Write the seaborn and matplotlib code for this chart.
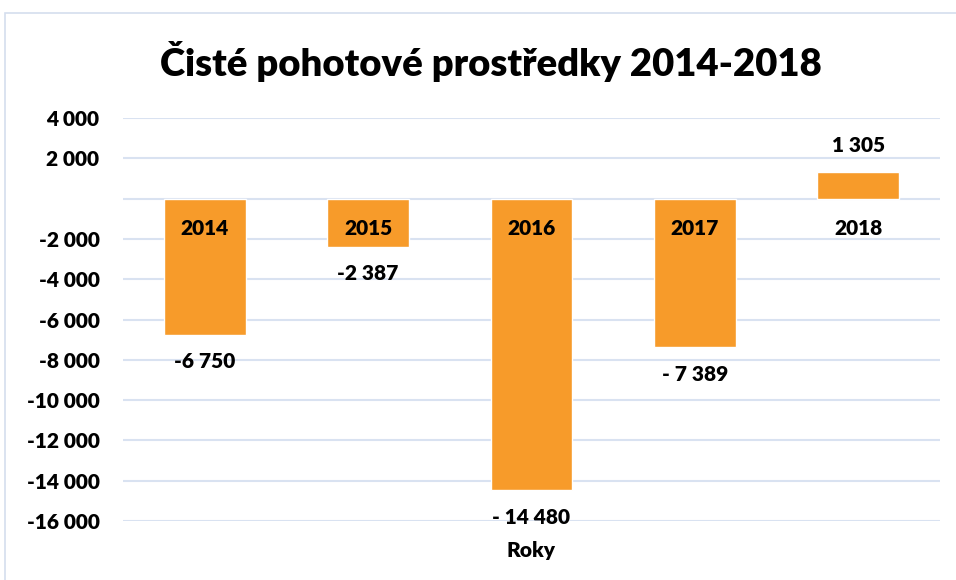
import matplotlib
matplotlib.use("Agg")
import matplotlib.pyplot as plt
import matplotlib.patches as mpatches
import seaborn as sns
import pandas as pd

years = ["2014", "2015", "2016", "2017", "2018"]
values = [-6750, -2387, -14480, -7389, 1305]
value_labels = ["-6 750", "-2 387", "- 14 480", "- 7 389", "1 305"]
yticks = [4000, 2000, 0, -2000, -4000, -6000, -8000, -10000, -12000, -14000, -16000]
ytick_labels = ["4 000", "2 000", "", "-2 000", "-4 000", "-6 000", "-8 000",
                "-10 000", "-12 000", "-14 000", "-16 000"]
title = "Čisté pohotové prostředky 2014-2018"
xlabel = "Roky"

sns.set_theme(style="white")
plt.rcParams['font.family'] = ['Lato', 'DejaVu Sans']
plt.rcParams['text.color'] = 'black'

W = "heavy"
FS = 15

df = pd.DataFrame({"year": years, "value": values})

fig = plt.figure(figsize=(9.56, 5.8), dpi=100)
ax = fig.add_axes([123/956, 1-521/580, (940-123)/956, (521-118)/580])

BAR = "#F79B2A"
GRID = "#D9E2F1"
sns.barplot(data=df, x="year", y="value", color=BAR, width=0.5,
            saturation=1, ax=ax, zorder=3)

ax.set_ylim(-16000, 4000)
ax.set_yticks(yticks)
ax.set_yticklabels(ytick_labels, fontsize=FS, fontweight=W, color="black")
ax.tick_params(axis="y", length=0, pad=17)
ax.grid(axis="y", color=GRID, linewidth=1.5, zorder=0)
ax.set_axisbelow(True)
for s in ax.spines.values():
    s.set_visible(False)

ax.set_xticks(range(len(years)))
ax.set_xticklabels([])
ax.tick_params(axis="x", length=0)
ax.set_xlabel("")
ax.set_ylabel("")

# category labels just below the zero line, drawn over bars
for i, yr in enumerate(years):
    ax.annotate(yr, (i, 0), xytext=(0, -21.5), textcoords="offset points",
                ha="center", va="center", fontsize=FS, fontweight=W,
                color="black", zorder=6)

# data labels
for i, (v, lab) in enumerate(zip(values, value_labels)):
    off = -19.5 if v < 0 else 19
    ax.annotate(lab, (i, v), xytext=(0, off), textcoords="offset points",
                ha="center", va="center", fontsize=FS, fontweight=W,
                color="black", zorder=6)

fig.text(531/956, 1-550/580, xlabel, ha="center", va="center",
         fontsize=FS, fontweight=W, color="black")
fig.text(491/956, 1-62/580, title, ha="center", va="center",
         fontsize=27.5, fontweight=W, color="black")

border = mpatches.Rectangle((4.5/956, -0.05), 1.1, 1 - 12.5/580 + 0.05,
                            transform=fig.transFigure, fill=False,
                            edgecolor="#D4DEEE", linewidth=1.2)
fig.patches.append(border)

fig.savefig("out.png", dpi=100)
